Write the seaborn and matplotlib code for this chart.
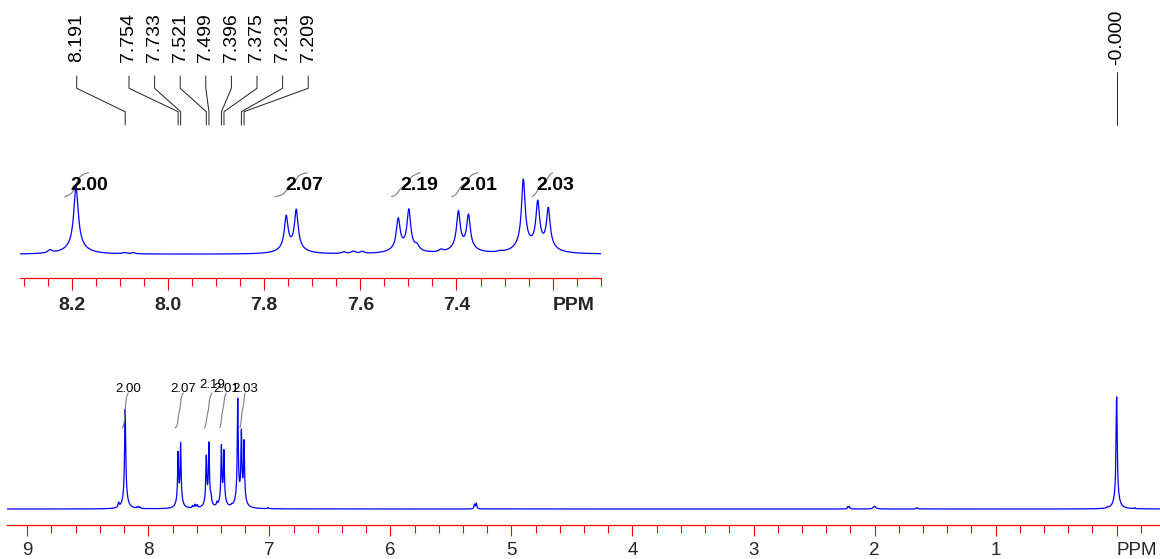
import numpy as np
import pandas as pd
import matplotlib
matplotlib.use("Agg")
import matplotlib.pyplot as plt
import seaborn as sns
from matplotlib.lines import Line2D
from matplotlib.ticker import MultipleLocator

# picked peaks: shift (ppm), peak top (CHCl3 line = 100), half width (ppm)
peak_ppm = [8.191, 7.754, 7.733, 7.521, 7.499, 7.396, 7.375, 7.261, 7.231, 7.209, 0.000]
peak_height = [90, 52, 60, 48.5, 60, 58, 53.5, 100, 72, 62.5, 101]
peak_width = [0.0055, 0.0045, 0.0045, 0.0045, 0.0045, 0.0045, 0.0045, 0.0045, 0.0045, 0.0045, 0.0055]

# small impurity / baseline bumps
minor_ppm = [8.245, 8.090, 8.072, 7.634, 7.614, 7.596, 7.482, 7.432, 7.310, 7.010,
             5.305, 5.290, 2.220, 2.208, 2.000, 1.650, 0.074, -0.151]
minor_height = [4.0, 1.5, 1.5, 2.0, 3.0, 2.5, 6.0, 3.0, 1.2, 1.0,
                4.0, 5.0, 2.0, 2.0, 2.5, 1.2, 1.0, 0.8]
minor_width = [0.005] * 14 + [0.012, 0.006, 0.004, 0.004]

# peak pick labels
pick_labels = ["8.191", "7.754", "7.733", "7.521", "7.499", "7.396", "7.375", "7.231", "7.209"]
pick_ppm = [8.191, 7.754, 7.733, 7.521, 7.499, 7.396, 7.375, 7.231, 7.209]
tms_label = "-0.000"

# integrals
integral_from = [8.215, 7.778, 7.535, 7.410, 7.243]
integral_to = [8.165, 7.710, 7.475, 7.355, 7.200]
integral_value = ["2.00", "2.07", "2.19", "2.01", "2.03"]

main_ticks = [9, 8, 7, 6, 5, 4, 3, 2, 1, 0]
main_ticklabels = ["9", "8", "7", "6", "5", "4", "3", "2", "1", "PPM"]
inset_ticks = [8.2, 8.0, 7.8, 7.6, 7.4, 7.2]
inset_ticklabels = ["8.2", "8.0", "7.8", "7.6", "7.4", "PPM"]


def lorentz(x, x0, w):
    return 1.0 / (1.0 + ((x - x0) / w) ** 2)


def line_shape(x, x0, w):
    # narrow line with a broader skirt
    return 0.88 * lorentz(x, x0, w) + 0.12 * lorentz(x, x0, 4 * w)


# amplitudes so that the overlapping lines reach the read peak tops
p = np.array(peak_ppm)
w = np.array(peak_width)
M = line_shape(p[:, None], p[None, :], w[None, :])
amps = np.linalg.solve(M, np.array(peak_height))

grid = np.arange(-0.40, 9.20, 0.0004)
intensity = np.zeros_like(grid)
for x0, a, ww in zip(peak_ppm, amps, peak_width):
    intensity += a * line_shape(grid, x0, ww)
for x0, a, ww in zip(minor_ppm, minor_height, minor_width):
    intensity += a * lorentz(grid, x0, ww)
spec = pd.DataFrame({"ppm": grid, "intensity": intensity})

sns.set_style("ticks")
plt.rcParams["font.family"] = ["Liberation Sans", "DejaVu Sans"]

W, H = 1160, 559
fig = plt.figure(figsize=(W / 100, H / 100), dpi=100)


def px_box(left, right, top, bottom):
    return [left / W, (H - bottom) / H, (right - left) / W, (bottom - top) / H]


red = "#ff0000"
blue = "#0000ff"

# ---- main spectrum ----
k_main = 1.11
ax = fig.add_axes(px_box(7.3, 1160, 380, 525))
sns.lineplot(data=spec, x="ppm", y="intensity", ax=ax, color=blue, linewidth=0.9,
             estimator=None, sort=False)
ax.set_xlim(9.165, -0.358)
ax.set_ylim(-(525 - 509) / k_main, (509 - 380) / k_main)

# ---- expanded inset ----
k_in = 0.753
axi = fig.add_axes(px_box(20, 601, 150, 278.3))
sub = spec[(spec.ppm > 7.05) & (spec.ppm < 8.35)]
sns.lineplot(data=sub, x="ppm", y="intensity", ax=axi, color=blue, linewidth=0.9,
             estimator=None, sort=False)
axi.set_xlim(8.3075, 7.0995)
axi.set_ylim(-(278.3 - 254.3) / k_in, (254.3 - 150) / k_in)

for a in (ax, axi):
    a.set_facecolor("none")
    a.set(xlabel="", ylabel="")
    a.set_yticks([])
    for s in ("left", "right", "top"):
        a.spines[s].set_visible(False)
    a.spines["bottom"].set_color(red)
    a.spines["bottom"].set_linewidth(0.9)

ax.set_xticks(main_ticks, main_ticklabels)
ax.xaxis.set_minor_locator(MultipleLocator(0.2))
ax.tick_params(axis="x", which="major", length=7.7, width=0.8, color=red,
               direction="out", pad=4.5, labelsize=13.5, bottom=True)
ax.tick_params(axis="x", which="minor", length=5.5, width=0.8, color=red,
               direction="out", bottom=True)
ax.get_xticklabels()[-1].set_horizontalalignment("left")

axi.set_xticks(inset_ticks, inset_ticklabels)
axi.xaxis.set_minor_locator(MultipleLocator(0.05))
axi.tick_params(axis="x", which="major", length=8.4, width=0.8, color=red,
                direction="out", pad=4.9, labelsize=14, bottom=True)
axi.tick_params(axis="x", which="minor", length=6, width=0.8, color=red,
                direction="out", bottom=True)
for t in axi.get_xticklabels():
    t.set_fontweight("bold")
axi.get_xticklabels()[-1].set_horizontalalignment("left")

# ---- integrals ----
gray = "#7f7f7f"
for f, t, val in zip(integral_from, integral_to, integral_value):
    m = (grid <= f) & (grid >= t)
    xs = grid[m][::-1]
    cum = np.cumsum(intensity[m][::-1])
    cum = (cum - cum[0]) / (cum[-1] - cum[0])
    # main view
    ax.plot(xs, 73 + (104.5 - 73) * cum, color=gray, lw=0.8, clip_on=False)
    ylab = 111.7 if val == "2.19" else 108.1
    ax.text(t, ylab, val, ha="center", va="center", fontsize=9.5, color="black")
    # inset view
    axi.plot(xs, 76.5 + (108.4 - 76.5) * cum, color=gray, lw=0.8, clip_on=False)
    axi.text((f + t) / 2 + 0.012, 92, val, ha="left", va="center", fontsize=14,
             fontweight="bold", color="black")

# ---- peak pick tree ----
fig.canvas.draw()


def fx(x):
    return x / W


def fy(y):
    return (H - y) / H


line_kw = dict(color="#202020", lw=0.7, transform=fig.transFigure)
label_x = [76.7] + [129 + 25.6 * i for i in range(len(pick_labels) - 1)]
for xl, lab, ppm in zip(label_x, pick_labels, pick_ppm):
    xp = ax.transData.transform((ppm, 0))[0]
    fig.add_artist(Line2D([fx(xl), fx(xl), fx(xp), fx(xp)],
                          [fy(76), fy(88.3), fy(111.7), fy(125)], **line_kw))
    fig.text(fx(xl), fy(62), lab, rotation=90, ha="center", va="bottom",
             fontsize=14, color="black")

xt = ax.transData.transform((0.0, 0))[0]
fig.add_artist(Line2D([fx(xt), fx(xt)], [fy(72), fy(125)], **line_kw))
fig.text(fx(xt), fy(65), tms_label, rotation=90, ha="center", va="bottom",
         fontsize=14, color="black")

fig.savefig("out.png", dpi=100)
